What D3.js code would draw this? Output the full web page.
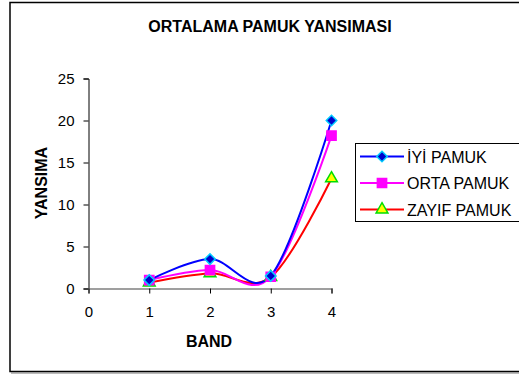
<!DOCTYPE html>
<html><head><meta charset="utf-8">
<script src="https://cdn.jsdelivr.net/npm/d3@7"></script>
<style>body{margin:0;background:#fff}svg{display:block}text{font-family:"Liberation Sans",Arial,sans-serif}</style>
</head><body><svg id="c" width="519" height="375"></svg>
<script>
const bands = [1, 2, 3, 4];
const xTicks = [0, 1, 2, 3, 4];
const yTicks = [0, 5, 10, 15, 20, 25];
const iyi = [1.0, 3.5, 1.5, 20.0];
const orta = [1.0, 2.2, 1.4, 18.2];
const zayif = [0.7, 1.8, 1.35, 13.1];
const seriesNames = ["İYİ PAMUK", "ORTA PAMUK", "ZAYIF PAMUK"];

const series = [
  {name: seriesNames[0], values: iyi, line: "#0000ff", fill: "#0000cc", stroke: "#00ccff", shape: d3.symbolSquare, size: 55, rot: 45},
  {name: seriesNames[1], values: orta, line: "#ff00ff", fill: "#ff00ff", stroke: "#ff00ff", shape: d3.symbolSquare, size: 85, rot: 0},
  {name: seriesNames[2], values: zayif, line: "#ff0000", fill: "#ffff00", stroke: "#00dd00", shape: d3.symbolTriangle, size: 60, rot: 0}
];

const svg = d3.select("#c");
svg.append("rect").attr("x", 10).attr("y", 2.5).attr("width", 530).attr("height", 369).attr("fill", "none").attr("stroke", "#000").attr("stroke-width", 1.5);
svg.append("line").attr("x1", 11).attr("x2", 540).attr("y1", 373).attr("y2", 373).attr("stroke", "#777").attr("stroke-width", 1);

const x = d3.scaleLinear().domain([0, 4]).range([88.5, 331.5]);
const y = d3.scaleLinear().domain([0, 25]).range([288.5, 78.5]);

svg.append("text").attr("x", 270).attr("y", 32).attr("text-anchor", "middle").attr("font-size", 16).attr("font-weight", "bold").text("ORTALAMA PAMUK YANSIMASI");

const yAxis = svg.append("g").attr("transform", "translate(88.5,0)")
  .call(d3.axisLeft(y).tickValues(yTicks).tickSize(5).tickPadding(9).tickFormat(d3.format("d")));
yAxis.selectAll("path,line").attr("stroke", "#000");
yAxis.selectAll("text").attr("font-size", 15).attr("font-family", "Liberation Sans, Arial, sans-serif").attr("fill", "#000");

const xAxis = svg.append("g").attr("transform", "translate(0,288.5)")
  .call(d3.axisBottom(x).tickValues(xTicks).tickSize(5).tickPadding(13).tickFormat(d3.format("d")));
xAxis.select("path").attr("stroke", "#808080").attr("stroke-width", 1.5);
xAxis.selectAll("line").attr("stroke", "#000");
xAxis.selectAll("text").attr("font-size", 15).attr("font-family", "Liberation Sans, Arial, sans-serif").attr("fill", "#000");

svg.append("text").attr("transform", "translate(47,183) rotate(-90)").attr("text-anchor", "middle").attr("font-size", 16).attr("font-weight", "bold").text("YANSIMA");
svg.append("text").attr("x", 209).attr("y", 347).attr("text-anchor", "middle").attr("font-size", 16).attr("font-weight", "bold").text("BAND");

const lineGen = d3.line().x((d, i) => x(bands[i])).y(d => y(d)).curve(d3.curveCatmullRom.alpha(0));

series.slice().reverse().forEach(s => {
  svg.append("path").attr("d", lineGen(s.values)).attr("fill", "none").attr("stroke", s.line).attr("stroke-width", 2);
});
series.slice().reverse().forEach(s => {
  svg.selectAll(null).data(s.values).enter().append("path")
    .attr("transform", (d, i) => `translate(${x(bands[i])},${y(d)}) rotate(${s.rot})`)
    .attr("d", d3.symbol().type(s.shape).size(s.size))
    .attr("fill", s.fill).attr("stroke", s.stroke).attr("stroke-width", 1.5);
});

const leg = svg.append("g");
leg.append("rect").attr("x", 355.5).attr("y", 143.5).attr("width", 180).attr("height", 78).attr("fill", "#fff").attr("stroke", "#000");
series.forEach((s, i) => {
  const cy = 156.5 + i * 26.5;
  leg.append("line").attr("x1", 360).attr("x2", 404).attr("y1", cy).attr("y2", cy).attr("stroke", s.line).attr("stroke-width", 2);
  leg.append("path").attr("transform", `translate(382,${cy}) rotate(${s.rot})`).attr("d", d3.symbol().type(s.shape).size(s.size))
    .attr("fill", s.fill).attr("stroke", s.stroke).attr("stroke-width", 1.5);
  leg.append("text").attr("x", 407).attr("y", cy + 6).attr("font-size", 16).text(s.name);
});
</script></body></html>
